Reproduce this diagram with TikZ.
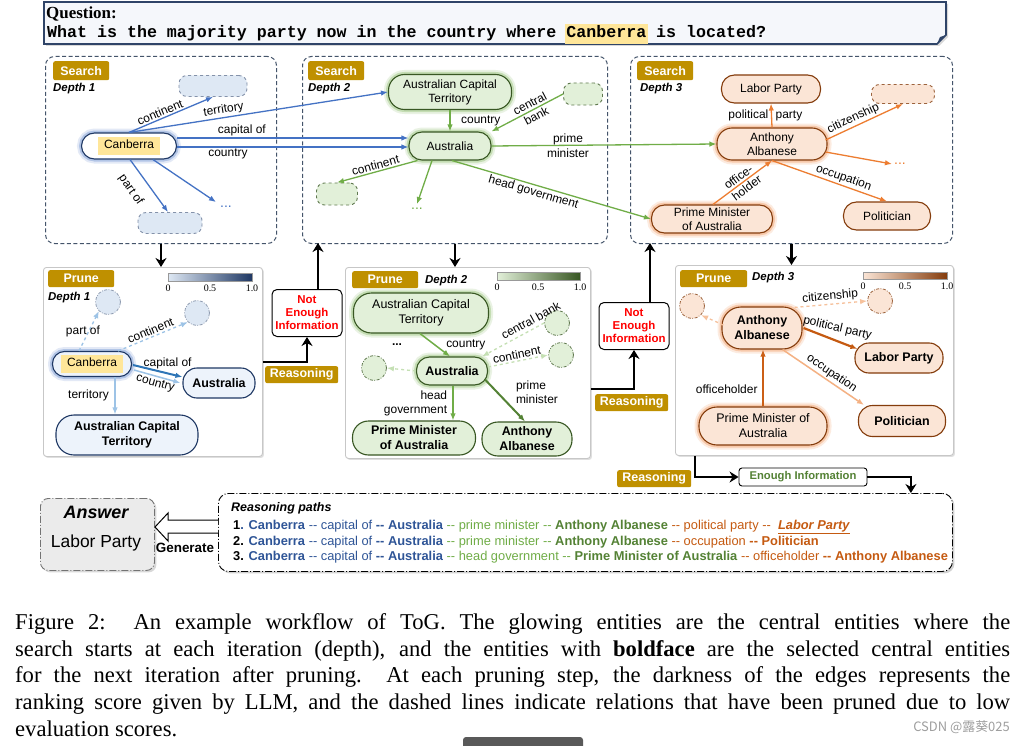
\documentclass[tikz,border=0pt]{standalone}
\usepackage{fontspec}
\setmainfont{Liberation Sans}
\setmonofont{Liberation Mono}
\newfontfamily\capfont{Liberation Serif}
\newfontfamily\cjkfont{Noto Sans CJK SC}
\usetikzlibrary{arrows.meta,shadows,calc,positioning}

\definecolor{boxnavy}{HTML}{44546A}
\definecolor{qfill}{HTML}{F5F7FB}
\definecolor{qline}{HTML}{2F4468}
\definecolor{hlyellow}{HTML}{FFE699}
\definecolor{tagold}{HTML}{BF9000}
\definecolor{bdark}{HTML}{1F3864}
\definecolor{btext}{HTML}{2F5597}
\definecolor{bedge}{HTML}{4472C4}
\definecolor{bmid}{HTML}{2E75B6}
\definecolor{blite}{HTML}{9DC3E6}
\definecolor{bfill}{HTML}{EDF3FB}
\definecolor{bphfill}{HTML}{DEE8F4}
\definecolor{gdark}{HTML}{385723}
\definecolor{gedge}{HTML}{70AD47}
\definecolor{gmid}{HTML}{548235}
\definecolor{glite}{HTML}{C5E0B4}
\definecolor{gfill}{HTML}{E2F0D9}
\definecolor{odark}{HTML}{843C0C}
\definecolor{oedge}{HTML}{ED7D31}
\definecolor{omid}{HTML}{C55A11}
\definecolor{olite}{HTML}{F4B183}
\definecolor{ofill}{HTML}{FBE5D6}

\newcommand{\fsz}[1]{\fontsize{#1}{#1}\selectfont}
\newcommand{\hlname}[1]{{\setlength{\fboxsep}{2.5bp}\colorbox{hlyellow}{\strut\hspace{4bp}#1\hspace{4bp}}}}
\newcommand{\hlq}[1]{{\setlength{\fboxsep}{1.5bp}\hspace*{-1.5bp}\colorbox{hlyellow}{\strut#1}\hspace*{-1.5bp}}}
\newcommand{\hh}{-{}-}

\tikzset{
  searchbox/.style={draw=boxnavy, dash pattern=on 4bp off 2.5bp, line width=1bp, rounded corners=9bp, anchor=north west},
  prunebox/.style={draw=black!22, fill=white, line width=0.9bp, rounded corners=3bp, anchor=north west,
    drop shadow={shadow xshift=1.5bp, shadow yshift=-1.5bp, opacity=0.25}},
  tag/.style={fill=tagold, text=white, font=\bfseries\fsz{12.5}, rounded corners=2bp, inner sep=0pt, anchor=north west},
  depthtxt/.style={font=\bfseries\itshape\fsz{11.5}, anchor=west, inner sep=0pt},
  bent/.style={draw=bdark, fill=bfill, line width=1.1bp, rounded corners=12bp, align=center, inner sep=1bp},
  gent/.style={draw=gdark, fill=gfill, line width=1.1bp, rounded corners=12bp, align=center, inner sep=1bp},
  oent/.style={draw=odark, fill=ofill, line width=1.1bp, rounded corners=12bp, align=center, inner sep=1bp},
  glowb/.style={preaction={draw=bedge, line width=9bp, draw opacity=0.15}, preaction={draw=bedge, line width=5bp, draw opacity=0.3}},
  glowg/.style={preaction={draw=gedge, line width=9bp, draw opacity=0.15}, preaction={draw=gedge, line width=5bp, draw opacity=0.3}},
  glowo/.style={preaction={draw=oedge, line width=9bp, draw opacity=0.15}, preaction={draw=oedge, line width=5bp, draw opacity=0.3}},
  bph/.style={draw=bdark!55, fill=bphfill, dashed, line width=0.9bp, rounded corners=8bp},
  gph/.style={draw=gdark!80, fill=gfill, dashed, line width=0.9bp, rounded corners=8bp},
  oph/.style={draw=odark!80, fill=ofill, dashed, line width=0.9bp, rounded corners=8bp},
  pcirc/.style={circle, minimum size=25bp, inner sep=0pt, line width=0.8bp,
    dash pattern=on 3bp off 1.5bp on 0.8bp off 1.5bp},
  bcirc/.style={pcirc, draw=bdark!50, fill=bphfill},
  gcirc/.style={pcirc, draw=gdark!80, fill=gfill},
  ocirc/.style={pcirc, draw=odark!80, fill=ofill},
  elab/.style={font=\fsz{12}, inner sep=1.5bp},
  bline/.style={draw=bedge, line width=1.3bp, ->},
  gline/.style={draw=gedge, line width=1.3bp, ->},
  oline/.style={draw=oedge, line width=1.3bp, ->},
  cutline/.style={line width=1.3bp, dashed, ->},
  flow/.style={line width=2.7bp, -{Stealth[length=9bp,width=11bp]}},
  nebox/.style={draw, fill=white, rounded corners=5bp, line width=1bp, text=red, align=center,
    font=\bfseries\fontsize{11.5}{13}\selectfont, minimum width=70bp, minimum height=47bp, inner sep=0pt},
  cbnum/.style={font=\capfont\fsz{10}, inner sep=0pt},
  dashdot/.style={dash pattern=on 7bp off 2bp on 1bp off 2bp}
}

\begin{document}
\begin{tikzpicture}[x=1bp, y=-1bp, >={Latex[length=7bp,width=5.5bp]}, font=\fsz{12}]
\useasboundingbox (0,0) rectangle (1014,746);
\fill[white] (0,0) rectangle (1014,746);

% question
\draw[qline, line width=1.6bp, fill=qfill, drop shadow={shadow xshift=2bp, shadow yshift=-2bp, opacity=0.3}]
  (44,2) -- (946,2) -- (946,35) -- (937,44) -- (44,44) -- cycle;
\fill[qline] (937,44) -- (940,37) -- (946,35) -- cycle;
\node[anchor=base west, inner sep=0pt, font=\capfont\bfseries\fsz{17}] (qhead) at (46,19) {Question:};
\node[anchor=base west, inner sep=0pt, font=\ttfamily\bfseries\fsz{16.7}] (qtext) at (47,38)
  {What is the majority party now in the country where \hlq{Canberra} is located?};

% search frames
\node[searchbox, minimum width=231bp, minimum height=187bp] (search1) at (45,56) {};
\node[searchbox, minimum width=305bp, minimum height=187bp] (search2) at (302,56) {};
\node[searchbox, minimum width=322bp, minimum height=187bp] (search3) at (630,56) {};
\node[tag, minimum width=56bp, minimum height=19bp] (stag1) at (53,61) {Search};
\node[tag, minimum width=56bp, minimum height=19bp] (stag2) at (308,61) {Search};
\node[tag, minimum width=56bp, minimum height=19bp] (stag3) at (637,61) {Search};
\node[depthtxt] (sdep1) at (53,89) {Depth 1};
\node[depthtxt] (sdep2) at (308,89) {Depth 2};
\node[depthtxt] (sdep3) at (640,89) {Depth 3};

% depth 1 search
\node[bent, fill=white, glowb, minimum width=95bp, minimum height=26bp, rounded corners=13bp] (canb1) at (129,146) {\hlname{Canberra}};
\node[bph, minimum width=68bp, minimum height=21bp] (bph1) at (213,86) {};
\node[bph, minimum width=64bp, minimum height=21bp] (bph2) at (170,223) {};
\node[text=bedge, inner sep=4bp, font=\fsz{14}] (bdots) at (226,207) {...};

% depth 2 search
\node[gent, glowg, minimum width=123bp, minimum height=35bp, rounded corners=16bp, font=\fontsize{12}{14}\selectfont] (act2) at (450,92) {Australian Capital\\Territory};
\node[gent, glowg, minimum width=82bp, minimum height=28bp, rounded corners=13bp] (aus2) at (450,146) {Australia};
\node[gph, minimum width=39bp, minimum height=22bp] (gph1) at (583,94) {};
\node[gph, minimum width=41bp, minimum height=22bp] (gph2) at (337,194) {};
\node[text=gedge, inner sep=4bp, font=\fsz{14}] (gdots) at (417,209) {...};

% depth 3 search
\node[oent, minimum width=99bp, minimum height=28bp, rounded corners=13bp] (lab3) at (771,89) {Labor Party};
\node[oent, glowo, minimum width=110bp, minimum height=32bp, rounded corners=15bp, font=\fontsize{12}{14}\selectfont] (aa3) at (772,144) {Anthony\\Albanese};
\node[oph, minimum width=63bp, minimum height=19bp] (oph1) at (903,94) {};
\node[text=oedge, inner sep=2bp, font=\fsz{14}] (odots) at (900,164) {...};
\node[oent, minimum width=87bp, minimum height=28bp, rounded corners=13bp] (pol3) at (887,216) {Politician};
\node[oent, glowo, minimum width=121bp, minimum height=28bp, rounded corners=13bp, font=\fontsize{12}{14}\selectfont] (pm3) at (712,219) {Prime Minister\\of Australia};

% search edges
\draw[bline] (canb1.north) -- (bph1.south) node[elab, pos=0.4, sloped, above] {continent};
\draw[bline] (canb1.north) -- (act2.west) node[elab, pos=0.37, sloped, above] {territory};
\draw[bline] ($(canb1.east)+(0,-8)$) -- ($(aus2.west)+(0,-8)$) node[elab, pos=0.28, above] {capital of};
\draw[bline] ($(canb1.east)+(0,1)$) -- ($(aus2.west)+(0,1)$) node[elab, pos=0.22, below] {country};
\draw[bline] ($(canb1.south)+(1,0)$) -- ($(bph2.north)+(-2,0)$);
\path ($(canb1.south)!0.58!(bph2.north)$) node[elab, xshift=-22bp, rotate=-55] (partof) {part of};
\draw[bline] ($(canb1.south)+(24,0)$) -- (bdots.north west);
\draw[gline] (act2.south) -- (aus2.north) node[elab, midway, right=9bp] {country};
\draw[gline] (gph1.west) -- (aus2.north east) node[pos=0.42, sloped, align=center, inner sep=0pt, font=\fontsize{12}{14}\selectfont] {central\\bank};
\draw[gline] ($(aus2.south west)+(9,0)$) -- (gph2.north) node[elab, midway, sloped, above] {continent};
\draw[gline] ($(aus2.south)+(-18,0)$) -- (gdots.north);
\draw[gline] (aus2.east) -- (aa3.west) node[pos=0.34, align=center, inner sep=0pt, font=\fontsize{12}{15}\selectfont] {prime\\minister};
\draw[gline] ($(aus2.south)+(2,0)$) -- (pm3.west) node[elab, pos=0.42, sloped, below] {head government};
\draw[oline] (aa3.north) -- (lab3.south) node[elab, midway, left=1bp] {political} node[elab, midway, right=2bp] {party};
\draw[oline] ($(aa3.east)+(-2,-4)$) -- (oph1.south) node[elab, pos=0.4, sloped, above] {citizenship};
\draw[oline] ($(aa3.east)+(-2,8)$) -- (odots.west);
\draw[oline] (aa3.south) -- (pol3.north) node[elab, pos=0.6, sloped, above] {occupation};
\draw[oline] ($(pm3.north)+(1,0)$) -- (aa3.south) node[midway, sloped, align=center, inner sep=0pt, font=\fontsize{12}{14}\selectfont] {office-\\holder};

% prune frames
\node[prunebox, minimum width=219bp, minimum height=189bp] (prune1) at (43,267) {};
\node[prunebox, minimum width=245bp, minimum height=191bp] (prune2) at (345,267) {};
\node[prunebox, minimum width=278bp, minimum height=190bp] (prune3) at (675,265) {};
\draw[flow] (search1.south) -- (search1.south |- prune1.north);
\draw[flow] (search2.south) -- (search2.south |- prune2.north);
\draw[flow] (search3.south) -- (search3.south |- prune3.north);
\node[tag, minimum width=66bp, minimum height=17bp] (ptag1) at (48,270) {Prune};
\node[tag, minimum width=66bp, minimum height=17bp] (ptag2) at (352,271) {Prune};
\node[tag, minimum width=67bp, minimum height=17bp] (ptag3) at (680,270) {Prune};
\node[depthtxt] (pdep1) at (48,298) {Depth 1};
\node[depthtxt] (pdep2) at (425,281) {Depth 2};
\node[depthtxt] (pdep3) at (752,278) {Depth 3};

% colour bars
\draw[black!40, line width=0.4bp, left color=bphfill, right color=bdark] (168,273) rectangle (252,281);
\draw[black!40, line width=0.4bp, left color=gfill, right color=gdark] (497,272) rectangle (580,280);
\draw[black!40, line width=0.4bp, left color=ofill, right color=odark] (863,272) rectangle (947,279);
\node[cbnum] (cb1a) at (168,288) {0};
\node[cbnum] (cb1b) at (210,288) {0.5};
\node[cbnum] (cb1c) at (252,288) {1.0};
\node[cbnum] (cb2a) at (497,287) {0};
\node[cbnum] (cb2b) at (538,287) {0.5};
\node[cbnum] (cb2c) at (580,287) {1.0};
\node[cbnum] (cb3a) at (863,286) {0};
\node[cbnum] (cb3b) at (905,286) {0.5};
\node[cbnum] (cb3c) at (947,286) {1.0};

% depth 1 prune
\node[bcirc] (pc1a) at (108,302) {};
\node[bcirc] (pc1b) at (197,313) {};
\node[bent, glowb, minimum width=79bp, minimum height=25bp, rounded corners=12bp] (pcanb) at (92,364) {\hlname{Canberra}};
\node[bent, font=\bfseries\fsz{12.5}, minimum width=72bp, minimum height=30bp, rounded corners=14bp] (paus1) at (219,383) {Australia};
\node[bent, font=\bfseries\fontsize{12.5}{15}\selectfont, minimum width=142bp, minimum height=40bp, rounded corners=18bp] (pact1) at (127,435) {Australian Capital\\Territory};
\draw[cutline, draw=blite] ($(pcanb.north)+(-13,0)$) -- (pc1a.south west) node[elab, midway, xshift=-6bp] {part of};
\draw[cutline, draw=blite] ($(pcanb.north)+(26,0)$) -- (pc1b.south west) node[elab, midway, sloped, above] {continent};
\draw[draw=bmid, line width=2bp, ->] ($(pcanb.east)+(1,1)$) -- ($(paus1.west)+(0,-6)$) node[elab, pos=0.7, above=2bp] {capital of};
\draw[draw=blite, line width=1.5bp, ->] ($(pcanb.east)+(2,6)$) -- ($(paus1.west)+(-2,0)$) node[elab, midway, sloped, below] {country};
\draw[draw=blite, line width=1.5bp, ->] ($(pcanb.south)+(23,0)$) -- ($(pact1.north)+(-12,0)$) node[elab, midway, left=4bp] {territory};

% depth 2 prune
\node[gent, glowg, font=\fontsize{12.5}{15}\selectfont, minimum width=135bp, minimum height=40bp, rounded corners=18bp] (pact2) at (421,313) {Australian Capital\\Territory};
\node[gent, glowg, font=\bfseries\fsz{12.5}, minimum width=71bp, minimum height=28bp, rounded corners=13bp] (paus2) at (452,371) {Australia};
\node[gcirc] (pc2a) at (374,368) {};
\node[gcirc] (pc2b) at (557,323) {};
\node[gcirc] (pc2c) at (561,355) {};
\node[font=\bfseries\fsz{12}] (pdots2) at (397,345) {...};
\node[gent, font=\bfseries\fontsize{12.5}{15}\selectfont, minimum width=123bp, minimum height=34bp, rounded corners=16bp] (ppm2) at (414,438) {Prime Minister\\of Australia};
\node[gent, font=\bfseries\fontsize{12.5}{15}\selectfont, minimum width=90bp, minimum height=34bp, rounded corners=16bp] (paa2) at (527,439) {Anthony\\Albanese};
\draw[draw=gedge, line width=1.5bp, ->] ($(pact2.south)+(-1,0)$) -- ($(paus2.north)+(-2,0)$) node[elab, midway, right=9bp] {country};
\draw[cutline, draw=glite] (pc2b.west) -- ($(paus2.north east)+(-6,0)$) node[elab, pos=0.15, sloped, above=2bp] {central bank};
\draw[cutline, draw=glite] ($(paus2.east)+(0,-4)$) -- (pc2c.west) node[elab, midway, sloped, above] {continent};
\draw[cutline, draw=glite] (paus2.west) -- (pc2a.east);
\draw[draw=gedge, line width=1.8bp, ->] ($(paus2.south)+(1,0)$) -- ($(ppm2.north)+(39,0)$) node[midway, left=4bp, align=right, inner sep=1bp, font=\fontsize{12}{14}\selectfont] {head\\government};
\draw[draw=gmid, line width=2bp, ->] ($(paus2.south east)+(-3,-6)$) -- ($(paa2.north)+(-2,0)$) node[pos=0.3, right=18bp, align=left, inner sep=0pt, font=\fontsize{12}{14}\selectfont] {prime\\minister};

% depth 3 prune
\node[ocirc] (pc3a) at (692,306) {};
\node[ocirc] (pc3b) at (880,301) {};
\node[oent, glowo, font=\bfseries\fontsize{12.5}{15}\selectfont, minimum width=80bp, minimum height=42bp, rounded corners=19bp] (paa3) at (762,328) {Anthony\\Albanese};
\node[oent, font=\bfseries\fsz{12.5}, minimum width=88bp, minimum height=30bp, rounded corners=14bp] (plab3) at (899,358) {Labor Party};
\node[oent, font=\bfseries\fsz{12.5}, minimum width=87bp, minimum height=31bp, rounded corners=14bp] (ppol3) at (902,421) {Politician};
\node[oent, glowo, font=\fontsize{12.5}{15}\selectfont, minimum width=128bp, minimum height=38bp, rounded corners=18bp] (ppm3) at (763,426) {Prime Minister of\\Australia};
\draw[cutline, draw=olite!80] ($(paa3.north east)+(-8,1)$) -- (pc3b.west) node[elab, midway, sloped, above] {citizenship};
\draw[cutline, draw=olite!80] ($(paa3.west)+(2,-3)$) -- (pc3a.south east);
\draw[draw=omid, line width=2.2bp, ->] ($(paa3.east)+(1,0)$) -- ($(plab3.west)+(3,-9)$) node[elab, pos=0.45, rotate=-13, above=3bp, xshift=8bp] {political party};
\draw[draw=olite, line width=1.5bp, ->] ($(paa3.south east)+(-20,0)$) -- ($(ppol3.north west)+(6,0)$) node[elab, pos=0.55, sloped, above] {occupation};
\draw[draw=omid!85!oedge, line width=2bp, ->] (ppm3.north) -- (ppm3.north |- paa3.south) node[elab, pos=0.3, left=3bp] {officeholder};

% reasoning steps
\node[nebox] (ne1) at (307,313) {Not\\Enough\\Information};
\node[nebox] (ne2) at (634,326) {Not\\Enough\\Information};
\node[tag, minimum width=73bp, minimum height=17bp] (rtag1) at (265,366) {Reasoning};
\node[tag, minimum width=73bp, minimum height=17bp] (rtag2) at (595,394) {Reasoning};
\node[tag, minimum width=74bp, minimum height=17bp] (rtag3) at (617,470) {Reasoning};
\node[draw, fill=white, rounded corners=3bp, line width=0.9bp, text=gmid, font=\bfseries\fsz{11.3},
  minimum width=128bp, minimum height=18bp, inner sep=0pt] (enough) at (803,477) {Enough Information};
\draw[flow] (prune1.east) -| (ne1.south);
\draw[flow] ($(ne1.north)+(11,0)$) -- ++(0,-46);
\draw[flow] ($(prune2.east)+(0,26)$) -| (ne2.south);
\draw[flow] ($(ne2.north)+(16,0)$) -- ++(0,-59);
\draw[flow] ($(prune3.south west)+(20,0)$) |- (enough.west);

% answer and reasoning paths
\node[draw=black!55, dashdot, line width=0.9bp, fill=black!8, rounded corners=8bp, minimum width=114bp, minimum height=72bp,
  anchor=north west, drop shadow={shadow xshift=2bp, shadow yshift=-2bp, opacity=0.3}] (answer) at (40,498) {};
\node[font=\bfseries\itshape\fsz{18}] (anshead) at (96,512) {Answer};
\node[font=\fsz{17.5}] (ansval) at (96,543) {Labor Party};
\node[draw, dashdot, line width=0.9bp, fill=white, rounded corners=10bp, minimum width=734bp, minimum height=78bp,
  anchor=north west, drop shadow={shadow xshift=2bp, shadow yshift=-2bp, opacity=0.35}] (paths) at (218,493) {};
\draw[flow] (enough.east) -| ($(paths.north east)+(-42,0)$);
\draw[line width=1bp, fill=white] (218,520) -- (168,520) -- (168,513) -- (155,527) -- (168,541) -- (168,533) -- (218,533);
\node[font=\bfseries\fsz{13.5}] (gen) at (185,548) {Generate};
\node[anchor=west, inner sep=0pt, font=\bfseries\itshape\fsz{12.5}] (ptitle) at (231,508) {Reasoning paths};
\node[anchor=west, inner sep=0pt, font=\fsz{12.9}] (path1) at (233,527)
  {\textbf{1}\textcolor{btext}{\textbf{. Canberra} \hh\ capital of \textbf{\hh\ Australia}} \textcolor{gedge}{\hh\ prime minister \hh\ \textcolor{gmid}{\textbf{Anthony Albanese}}} \textcolor{omid}{\hh\ political party \hh\ \ \underline{\textbf{\textit{Labor Party}}}}};
\node[anchor=west, inner sep=0pt, font=\fsz{12.9}] (path2) at (233,542)
  {\textbf{2. }\textcolor{btext}{\textbf{Canberra} \hh\ capital of \textbf{\hh\ Australia}} \textcolor{gedge}{\hh\ prime minister \hh\ \textcolor{gmid}{\textbf{Anthony Albanese}}} \textcolor{omid}{\hh\ occupation \textbf{\hh\ Politician}}};
\node[anchor=west, inner sep=0pt, font=\fsz{12.9}] (path3) at (233,557)
  {\textbf{3. }\textcolor{btext}{\textbf{Canberra} \hh\ capital of \textbf{\hh\ Australia}} \textcolor{gedge}{\hh\ head government \hh\ \textcolor{gmid}{\textbf{Prime Minister of Australia}}} \textcolor{omid}{\hh\ officeholder \textbf{\hh\ Anthony Albanese}}};

% caption
\node[anchor=north west, text width=995bp, align=justify, inner sep=0pt, font=\capfont\fontsize{22.7}{27}\selectfont] (caption) at (15,613)
  {Figure 2:\ \ An example workflow of ToG. The glowing entities are the central entities where the\linebreak
   search starts at each iteration (depth), and the entities with \textbf{boldface} are the selected central entities\linebreak
   for the next iteration after pruning.\ \ At each pruning step, the darkness of the edges represents the\linebreak
   ranking score given by LLM, and the dashed lines indicate relations that have been pruned due to low\linebreak
   evaluation scores.};
\node[anchor=east, inner sep=0pt, text=black!38, font=\cjkfont\fsz{13}] (wmark) at (1010,727) {CSDN @露葵025};
\fill[black!65, rounded corners=3bp] (463,737) rectangle (583,752);
\end{tikzpicture}
\end{document}
